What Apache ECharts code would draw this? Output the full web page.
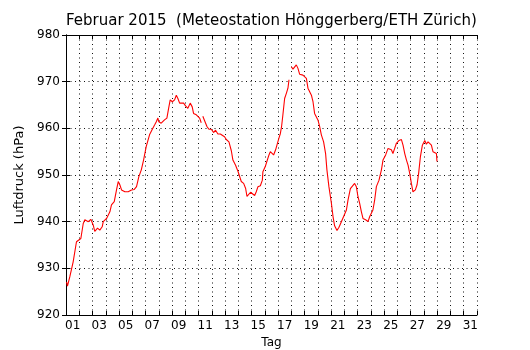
<!DOCTYPE html>
<html>
<head>
<meta charset="utf-8">
<script src="https://cdn.jsdelivr.net/npm/echarts@6/dist/echarts.min.js"></script>
<style>
  html, body { margin: 0; padding: 0; background: #fff; }
  #chart { width: 530px; height: 350px; }
</style>
</head>
<body>
<div id="chart"></div>
<script>
// Tage als Kategorien (Beschriftung in Tagesmitte)
const dayLabels = ['01','02','03','04','05','06','07','08','09','10','11','12','13','14','15','16',
  '17','18','19','20','21','22','23','24','25','26','27','28','29','30','31']

// Zeit in Tagen seit 1. Feb 00:00, null = Datenlücke
const dayTime = [
  0.04, 0.11, 0.29, 0.54, 0.79, 0.92, 1.12, 1.30, 1.42, 1.68, 1.87, 2.05, 2.17, 2.38, 2.55, 2.73,
  2.81, 3.06, 3.31, 3.43, 3.64, 3.81, 3.94, 4.06, 4.19, 4.44, 4.69, 4.94, 5.15, 5.32, 5.49, 5.68,
  5.85, 6.05, 6.30, 6.51, 6.68, 6.81, 6.93, 7.00, 7.18, 7.31, 7.43, 7.61, 7.76, 7.86, 8.02, 8.19,
  8.32, 8.44, 8.57, 8.69, 8.87, 9.02, 9.19, 9.37, 9.52, 9.62, 9.83, 9.95, 10.08, 10.20, 10.26,
  10.32, 10.45, 10.63, 10.78, 10.96, 11.13, 11.28, 11.46, 11.64, 11.79, 11.96, 12.09, 12.29, 12.47,
  12.59, 12.79, 12.97, 13.22, 13.40, 13.55, 13.65, 13.80, 13.92, 14.05, 14.23, 14.35, 14.48, 14.66,
  14.81, 14.85, 15.03, 15.15, 15.31, 15.41, 15.56, 15.66, 15.81, 15.91, 16.06, 16.17, 16.26, 16.36,
  16.49, 16.62, 16.74, 16.82, 16.91,
  17.00, 17.12, 17.25, 17.37, 17.49, 17.62, 17.75, 17.87, 18.00, 18.13, 18.25, 18.38, 18.51, 18.63,
  18.75, 18.88, 19.00, 19.13, 19.26, 19.43, 19.58, 19.68, 19.83, 20.02, 20.14, 20.26, 20.44, 20.59,
  20.77, 20.94, 21.15, 21.27, 21.45, 21.60, 21.77, 21.90, 22.02, 22.15, 22.28, 22.40, 22.60, 22.78,
  22.91, 23.03, 23.15, 23.28, 23.41, 23.61, 23.79, 23.91, 24.11, 24.29, 24.42, 24.54, 24.66, 24.79,
  24.92, 25.12, 25.30, 25.42, 25.55, 25.68, 25.80, 25.92, 26.05, 26.17, 26.35, 26.48, 26.60, 26.73,
  26.88, 27.06, 27.18, 27.31, 27.43, 27.56, 27.68, 27.81, 27.94, 27.98
]

// Luftdruck in hPa
const pressure = [
  927.1, 926.2, 928.2, 931.4, 935.7, 935.7, 936.4, 939.6, 940.4, 940.0, 940.5, 939.3, 937.9, 938.6, 938.2, 938.9,
  940.0, 940.7, 942.1, 943.6, 944.3, 946.8, 948.6, 947.9, 946.8, 946.4, 946.4, 946.8, 946.9, 947.5, 949.6, 951.1,
  953.2, 956.1, 958.6, 959.8, 960.7, 961.4, 962.2, 961.4, 961.1, 961.2, 961.8, 962.2, 964.6, 966.1, 965.7, 966.1,
  967.1, 966.4, 965.4, 965.0, 965.4, 964.8, 964.3, 965.4, 964.6, 963.2, 962.9, 963.2, 962.2, 961.2, null,
  962.6, 962.2, 960.4, 959.8, 959.8, 959.1, 959.6, 958.8, 958.8, 959.1, 958.2, 957.6, 957.1, 955.2,
  953.2, 952.1, 950.8, 948.6, 948.2, 947.1, 945.4, 945.1, 946.3, 945.9, 945.6, 946.4, 947.5, 947.7,
  948.9, 950.7, 951.8, 952.9, 954.3, 955.0, 954.6, 954.3, 955.4, 956.4, 957.9, 958.9, 960.4, 962.9,
  966.4, 967.5, 968.6, 970.4, null,
  973.2, 972.7, 973.0, 973.6, 972.9, 971.6, 971.8, 971.4, 971.8, 970.7, 968.6, 968.2, 967.1, 965.7,
  963.2, 962.9, 961.8, 960.4, 958.6, 957.1, 954.6, 951.1, 947.5, 943.9, 941.1, 939.1, 938.1, 938.8,
  940.0, 941.1, 942.5, 944.6, 947.1, 947.5, 948.2, 947.5, 945.4, 943.9, 942.1, 940.7, 940.4, 940.0,
  941.1, 941.4, 942.5, 944.6, 947.5, 948.9, 951.1, 953.2, 954.3, 955.7, 956.1, 955.4, 954.6, 955.7,
  956.8, 957.4, 957.6, 956.4, 954.6, 953.2, 952.1, 950.4, 948.2, 946.4, 946.8, 947.9, 950.4, 953.9,
  956.4, 957.4, 956.6, 957.1, 957.5, 956.4, 955.0, 954.6, 954.6, 952.9
]

const yTicks = { min: 920, max: 980, step: 10 }

const font = 'DejaVu Sans'
const dotted = { color: '#111', width: 1, type: [1, 3.5] }

const chart = echarts.init(document.getElementById('chart'), null, { renderer: 'canvas' })

const seriesData = dayTime.map((t, i) => [t, pressure[i]])

chart.setOption({
  animation: false,
  backgroundColor: '#fff',
  title: {
    text: 'Februar 2015  (Meteostation Hönggerberg/ETH Zürich)',
    left: 66,
    top: 14,
    padding: 0,
    textStyle: { fontFamily: font, fontSize: 15, fontWeight: 'normal', color: '#000' }
  },
  grid: { left: 66, right: 53, top: 35, bottom: 35, outerBoundsMode: 'none' },
  xAxis: [
    {
      type: 'value', position: 'bottom', min: 0, max: 31, interval: 1,
      axisLine: { lineStyle: { color: '#000', width: 1 } },
      axisTick: { inside: true, length: 4, lineStyle: { color: '#000' } },
      axisLabel: { show: false },
      splitLine: { show: true, lineStyle: dotted }
    },
    {
      type: 'category', position: 'bottom', data: dayLabels, boundaryGap: true,
      axisLine: { show: false }, axisTick: { show: false }, splitLine: { show: false },
      axisLabel: { interval: 1, margin: 5, fontFamily: font, fontSize: 12, color: '#000' },
      name: 'Tag', nameLocation: 'middle', nameGap: 21,
      nameTextStyle: { fontFamily: font, fontSize: 12, color: '#000' }
    },
    {
      type: 'value', position: 'top', min: 0, max: 31, interval: 1,
      axisLine: { lineStyle: { color: '#000', width: 1 } },
      axisTick: { inside: true, length: 4, lineStyle: { color: '#000' } },
      axisLabel: { show: false }, splitLine: { show: false }
    }
  ],
  yAxis: [
    {
      type: 'value', position: 'left', min: yTicks.min, max: yTicks.max, interval: yTicks.step,
      axisLine: { show: true, lineStyle: { color: '#000', width: 1 } },
      axisTick: { show: true, inside: true, length: 4, lineStyle: { color: '#000' } },
      axisLabel: { margin: 6, fontFamily: font, fontSize: 12, color: '#000' },
      splitLine: { show: true, lineStyle: dotted },
      name: 'Luftdruck (hPa)', nameLocation: 'middle', nameGap: 33,
      nameTextStyle: { fontFamily: font, fontSize: 13, color: '#000' }
    },
    {
      type: 'value', position: 'right', min: yTicks.min, max: yTicks.max, interval: yTicks.step,
      axisLine: { show: true, lineStyle: { color: '#000', width: 1 } },
      axisTick: { show: true, inside: true, length: 4, lineStyle: { color: '#000' } },
      axisLabel: { show: false }, splitLine: { show: false }
    }
  ],
  series: [
    {
      type: 'line',
      xAxisIndex: 0,
      yAxisIndex: 0,
      data: seriesData,
      showSymbol: false,
      connectNulls: false,
      lineStyle: { color: '#ff0000', width: 1.1 }
    }
  ]
})
</script>
</body>
</html>
